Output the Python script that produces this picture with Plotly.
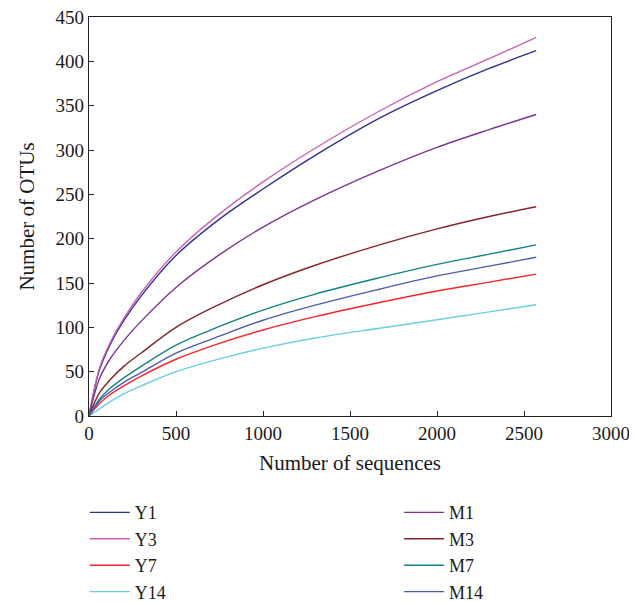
import plotly.graph_objects as go

# Number of sequences sampled
seqs = [0, 60, 120, 200, 300, 500, 750, 1000, 1300, 1670, 2000, 2300, 2570]

# Number of OTUs for each sample
Y1 = [0, 52, 80, 107.5, 135.5, 181, 222, 256, 294, 336, 367, 392, 412]
Y3 = [0, 54, 82, 110, 139, 185, 228, 264, 302, 344, 377, 403, 427]
Y7 = [0, 14, 24, 34, 45, 64, 82, 97, 112, 128, 141, 151, 160]
Y14 = [0, 8, 16, 25, 34, 50, 64.5, 76.5, 88, 99, 108.5, 117.5, 125.5]
M1 = [0, 42, 64, 85, 107, 145, 182, 213, 244, 277, 303, 323, 340]
M3 = [0, 26, 40.5, 56, 71, 100, 126, 148, 170, 193, 211, 225, 236]
M7 = [0, 19, 31, 43, 56, 80, 101, 119.5, 137.5, 156, 171, 182.5, 193]
M14 = [0, 17, 27, 38, 49, 71, 90, 108, 125, 143, 158, 169, 179]

names = ["Y1", "Y3", "Y7", "Y14", "M1", "M3", "M7", "M14"]
series = [Y1, Y3, Y7, Y14, M1, M3, M7, M14]
colors = ["#2E3191", "#C962B5", "#F5252B", "#6BCFE0", "#7D3590", "#86232A", "#13837F", "#4A5DB0"]
legends = ["legend", "legend", "legend", "legend", "legend2", "legend2", "legend2", "legend2"]

fig = go.Figure()
for name, vals, col, lg in zip(names, series, colors, legends):
    fig.add_trace(go.Scatter(
        x=seqs, y=vals, name=name, mode="lines", legend=lg,
        line=dict(color=col, width=1.4, shape="spline", smoothing=1.0),
    ))

font_family = "Liberation Serif"
legend_font = dict(family=font_family, size=18, color="#1a1a1a")
fig.update_layout(
    width=629, height=594,
    margin=dict(l=81, r=26, t=9, b=186, autoexpand=False),
    plot_bgcolor="white", paper_bgcolor="white",
    font=dict(family=font_family, size=19, color="#1a1a1a"),
    showlegend=True,
    legend=dict(
        orientation="v", x=-0.008, y=-0.196, xanchor="left", yanchor="top",
        font=legend_font, itemwidth=40, bgcolor="rgba(0,0,0,0)",
    ),
    legend2=dict(
        orientation="v", x=0.594, y=-0.196, xanchor="left", yanchor="top",
        font=legend_font, itemwidth=40, bgcolor="rgba(0,0,0,0)",
    ),
)
fig.update_xaxes(
    range=[0, 3000], tickvals=[0, 500, 1000, 1500, 2000, 2500, 3000],
    ticks="inside", ticklen=5, tickwidth=1, tickcolor="#222",
    showline=True, linecolor="#222", linewidth=1.2, mirror=True,
    showgrid=False, zeroline=False, ticklabeloverflow="allow",
    title=dict(text="Number of sequences", font=dict(size=21), standoff=12),
    tickfont=dict(size=19),
)
fig.update_yaxes(
    range=[0, 450], tickvals=list(range(0, 451, 50)),
    ticks="inside", ticklen=5, tickwidth=1, tickcolor="#222",
    showline=True, linecolor="#222", linewidth=1.2, mirror=True,
    showgrid=False, zeroline=False, ticklabeloverflow="allow",
    title=dict(text="Number of OTUs", font=dict(size=21), standoff=15),
    tickfont=dict(size=19),
)

fig.write_html("out.html")
